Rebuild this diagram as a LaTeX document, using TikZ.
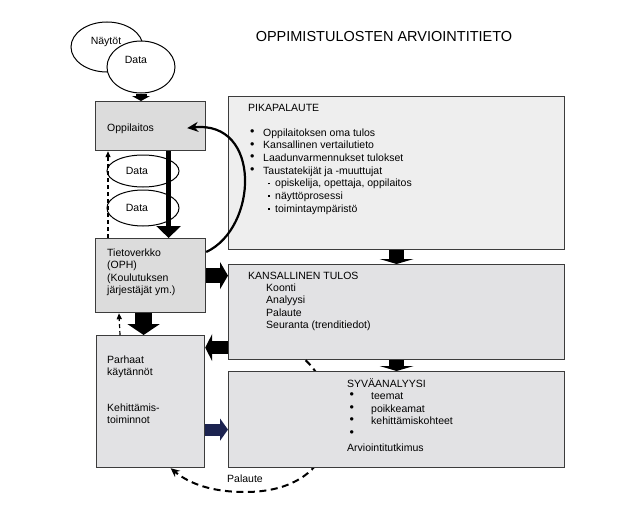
\documentclass[tikz,border=0pt]{standalone}
\usepackage{fontspec}
\setmainfont{Liberation Sans}
\usetikzlibrary{arrows.meta,shapes.geometric}
\definecolor{boxA}{HTML}{DCDCDC}
\definecolor{boxB}{HTML}{E2E2E4}
\definecolor{boxC}{HTML}{EEEEEE}
\definecolor{bord}{HTML}{3C3C3C}
\definecolor{navy}{HTML}{1C2350}
\newcommand{\bigbul}{\raisebox{0.6pt}{\fontsize{12.5}{12}\selectfont •}}
\newcommand{\bulA}{\makebox[13pt][l]{\bigbul}}
\newcommand{\bulB}{\makebox[7pt][l]{\rule[2.4pt]{1.9pt}{1.9pt}}}
\tikzset{
  box/.style={draw=bord, line width=1.2pt, anchor=north west, inner sep=0pt},
  oval/.style={draw=black, line width=1pt, fill=white, ellipse, inner sep=0pt},
  txt/.style={inner sep=0pt, anchor=base west, font=\fontsize{10.5}{12.6}\selectfont},
  ctxt/.style={inner sep=0pt, anchor=center, font=\fontsize{10.5}{12.6}\selectfont},
  blockarrow/.style={draw=black, line cap=butt},
  dashup/.style={line width=1.2pt, dash pattern=on 4pt off 3pt, -{Triangle[length=6pt,width=5pt]}},
}
\begin{document}
\begin{tikzpicture}[x=1pt,y=-1pt]
\useasboundingbox (0,0) rectangle (643,522);
% title
\node[inner sep=0pt, font=\fontsize{14.5}{16}\selectfont] (title) at (384,37) {OPPIMISTULOSTEN ARVIOINTITIETO};
% ellipses
\node[oval, minimum width=72pt, minimum height=50pt] (naytot) at (107,47) {};
\node[oval, minimum width=68pt, minimum height=52pt] (dtop) at (141,67) {};
\node[ctxt] (naytott) at (106,42) {Näytöt};
\node[ctxt] (dtopt) at (136,60) {Data};
\node[oval, minimum width=72pt, minimum height=32pt] (d1) at (143,171) {};
\node[oval, minimum width=72pt, minimum height=36pt] (d2) at (143,208) {};
\node[ctxt] (d1t) at (137,171) {Data};
\node[ctxt] (d2t) at (137,208) {Data};
% boxes
\node[box, fill=boxA, minimum width=110pt, minimum height=49pt] (opp) at (95,101) {};
\node[box, fill=boxA, minimum width=110pt, minimum height=74pt] (tiet) at (95,238) {};
\node[box, fill=boxB, minimum width=336pt, minimum height=95pt] (kans) at (228,264) {};
\node[box, fill=boxB, minimum width=108pt, minimum height=132pt] (parh) at (96,335) {};
% palaute dashed curve (behind the lower box)
\draw[line width=2pt, dash pattern=on 7pt off 4.5pt, -{Stealth[length=9pt,width=8pt]}]
  ([xshift=-91pt]kans.south) .. controls (348,400) and (345,492) .. (245,492)
  .. controls (205,492) and (185,480) .. ([xshift=20pt]parh.south);
\node[box, fill=boxC, minimum width=336pt, minimum height=153pt] (pika) at (228,96) {};
\node[box, fill=boxB, minimum width=336pt, minimum height=96pt] (syv) at (228,371) {};
% block arrows
\draw[blockarrow, line width=11pt, -{Triangle[width=18pt,length=5pt]}] (dtop.south) -- (dtop.south |- opp.north);
\draw[blockarrow, line width=5pt, -{Triangle[width=24pt,length=12pt]}] ([xshift=18pt]opp.south) -- ([xshift=18pt]tiet.north);
\draw[blockarrow, line width=15pt, -{Triangle[width=34pt,length=5pt]}] (pika.south) -- (kans.north);
\draw[blockarrow, line width=15pt, -{Triangle[width=34pt,length=5pt]}] (kans.south) -- (syv.north);
\draw[blockarrow, line width=15pt, -{Triangle[width=27pt,length=8pt]}] (tiet.east) -- (tiet.east -| kans.west);
\coordinate (kl) at ([yshift=-35.5pt]kans.west);
\draw[blockarrow, line width=13pt, -{Triangle[width=27pt,length=7pt]}] (kl) -- (kl -| parh.east);
\draw[blockarrow, line width=17pt, -{Triangle[width=32pt,length=11pt]}] ([xshift=-7pt]tiet.south) -- ([xshift=-7pt]tiet.south |- parh.north);
\coordinate (nv) at ([yshift=-10pt]syv.west);
\draw[draw=navy, line cap=butt, line width=12pt, -{Triangle[width=22pt,length=8pt,fill=navy]}] (nv -| parh.east) -- (nv);
% dashed up arrows
\draw[dashup] ([xshift=13pt]tiet.north west) -- ([xshift=13pt]opp.south west);
\draw[dashup] ([xshift=24pt]parh.north west) -- ([xshift=24pt]tiet.south west);
% curved feedback arrow
\draw[line width=2.2pt, -{Stealth[length=11pt,width=10pt]}]
  ([yshift=-14pt]tiet.north east) .. controls (258,228) and (262,120) .. ([xshift=-19pt,yshift=-2pt]opp.east);
% texts
\node[txt] (oppt) at (107,131) {Oppilaitos};
\node[txt] (tt1) at (107,256) {Tietoverkko};
\node[txt] (tt2) at (107,268.5) {(OPH)};
\node[txt] (tt3) at (107,281) {(Koulutuksen};
\node[txt] (tt4) at (107,293.5) {järjestäjät ym.)};
\node[txt] (pt1) at (107,363) {Parhaat};
\node[txt] (pt2) at (107,375.5) {käytännöt};
\node[txt] (pt3) at (107,411) {Kehittämis-};
\node[txt] (pt4) at (107,423.5) {toiminnot};
\node[txt] (pk0) at (248,111) {PIKAPALAUTE};
\node[txt] (pk1) at (250,136) {\bulA Oppilaitoksen oma tulos};
\node[txt] (pk2) at (250,148.7) {\bulA Kansallinen vertailutieto};
\node[txt] (pk3) at (250,161.4) {\bulA Laadunvarmennukset tulokset};
\node[txt] (pk4) at (250,174.1) {\bulA Taustatekijät ja -muuttujat};
\node[txt] (pk5) at (268,186.8) {\bulB opiskelija, opettaja, oppilaitos};
\node[txt] (pk6) at (268,199.5) {\bulB näyttöprosessi};
\node[txt] (pk7) at (268,212.2) {\bulB toimintaympäristö};
\node[txt] (kt0) at (248,279) {KANSALLINEN TULOS};
\node[txt] (kt1) at (266,291.4) {Koonti};
\node[txt] (kt2) at (266,303.8) {Analyysi};
\node[txt] (kt3) at (266,316.2) {Palaute};
\node[txt] (kt4) at (266,328.6) {Seuranta (trenditiedot)};
\node[txt] (st0) at (347,387) {SYVÄANALYYSI};
\node[txt] (sb1) at (349.5,399) {\bigbul};
\node[txt] (sb2) at (349.5,411.7) {\bigbul};
\node[txt] (sb3) at (349.5,424.4) {\bigbul};
\node[txt] (sb4) at (349.5,437.1) {\bigbul};
\node[txt] (st1) at (371,399.5) {teemat};
\node[txt] (st2) at (371,412.2) {poikkeamat};
\node[txt] (st3) at (371,424.9) {kehittämiskohteet};
\node[txt] (st4) at (347,451) {Arviointitutkimus};
\node[txt] (pal) at (227,482) {Palaute};
\end{tikzpicture}
\end{document}
